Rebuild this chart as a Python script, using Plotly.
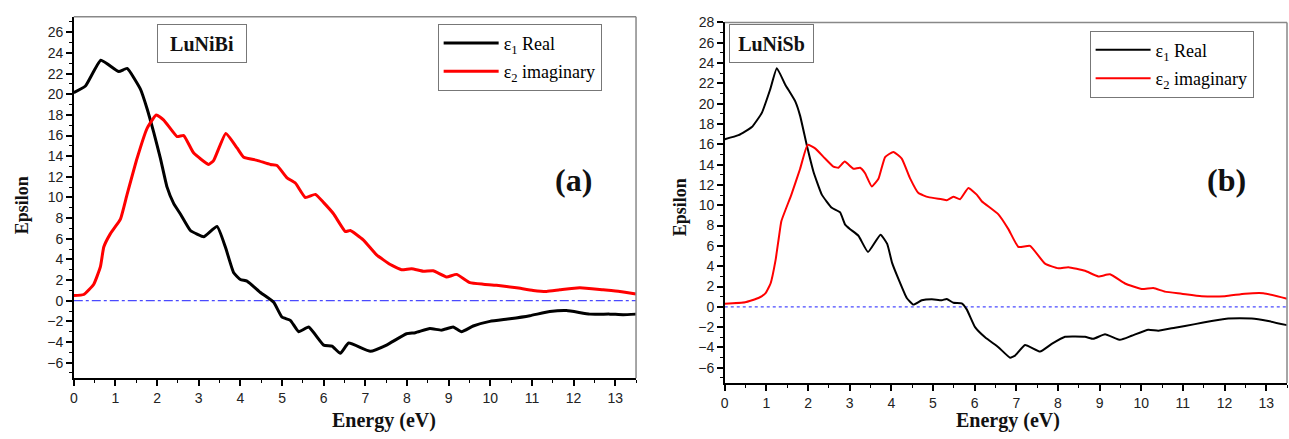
import plotly.graph_objects as go

# ---------------- data ----------------
# Panel (a) LuNiBi
bi_e1_E = [0, 0.28, 0.65, 1.08, 1.28, 1.6, 1.76, 1.92, 2.08, 2.24, 2.4, 2.56, 2.8, 2.96, 3.12, 3.44, 3.64,
           3.84, 4.0, 4.16, 4.48, 4.8, 5.0, 5.2, 5.4, 5.64, 6.0, 6.2, 6.4, 6.6, 7.12, 7.51, 7.99, 8.2, 8.55,
           8.83, 9.11, 9.31, 9.59, 9.99, 10.47, 10.95, 11.43, 11.83, 12.39, 12.87, 13.19, 13.5]
bi_e1 = [20.15, 20.8, 23.3, 22.2, 22.5, 20.5, 18.6, 16.3, 13.8, 11.0, 9.4, 8.4, 6.8, 6.45, 6.2, 7.2, 5.2,
         2.7, 2.05, 1.9, 0.8, -0.15, -1.6, -1.9, -3.0, -2.55, -4.3, -4.4, -5.1, -4.1, -4.9, -4.3, -3.2, -3.1, -2.7,
         -2.85, -2.55, -3.0, -2.45, -2.0, -1.75, -1.45, -1.05, -0.95, -1.3, -1.3, -1.35, -1.3]

bi_e2_E = [0, 0.24, 0.48, 0.64, 0.72, 0.88, 1.12, 1.28, 1.52, 1.76, 1.98, 2.16, 2.48, 2.64, 2.88, 3.24, 3.36,
           3.65, 3.92, 4.08, 4.4, 4.72, 4.88, 5.12, 5.32, 5.56, 5.8, 6.0, 6.24, 6.52, 6.64, 6.95, 7.27, 7.6,
           7.87, 8.11, 8.39, 8.63, 8.95, 9.19, 9.51, 9.83, 10.15, 10.63, 11.03, 11.35, 11.67, 12.15, 12.71, 13.11, 13.5]
bi_e2 = [0.5, 0.6, 1.6, 3.3, 5.2, 6.5, 7.9, 10.3, 13.8, 16.7, 18.0, 17.5, 15.9, 16.0, 14.3, 13.2, 13.6,
         16.2, 14.8, 13.9, 13.6, 13.2, 13.1, 11.9, 11.4, 10.0, 10.3, 9.5, 8.4, 6.7, 6.8, 5.9, 4.45, 3.5,
         3.0, 3.1, 2.85, 2.9, 2.3, 2.55, 1.75, 1.6, 1.5, 1.25, 1.0, 0.9, 1.05, 1.25, 1.05, 0.9, 0.65]

# Panel (b) LuNiSb
sb_e1_E = [0, 0.33, 0.65, 0.89, 1.09, 1.25, 1.45, 1.69, 1.81, 1.97, 2.13, 2.33, 2.57, 2.77, 2.89, 3.01, 3.21,
           3.44, 3.74, 3.9, 4.02, 4.18, 4.37, 4.53, 4.73, 4.97, 5.21, 5.33, 5.49, 5.69, 5.81, 6.01, 6.25, 6.57,
           6.85, 6.97, 7.21, 7.57, 7.85, 8.17, 8.65, 8.85, 9.13, 9.49, 9.77, 10.17, 10.41, 10.81, 11.29, 11.69,
           12.09, 12.65, 13.05, 13.5]
sb_e1 = [16.5, 16.9, 17.7, 19.1, 21.4, 23.5, 21.9, 20.25, 18.8, 15.9, 13.3, 11.05, 9.75, 9.3, 8.1, 7.65, 7.0,
         5.4, 7.1, 6.2, 4.3, 2.65, 0.87, 0.22, 0.65, 0.75, 0.65, 0.78, 0.4, 0.35, -0.25, -2.0, -3.0, -3.97,
         -5.0, -4.8, -3.75, -4.4, -3.65, -2.95, -2.95, -3.15, -2.7, -3.25, -2.85, -2.25, -2.35, -2.05, -1.7, -1.4,
         -1.15, -1.15, -1.4, -1.8]

sb_e2_E = [0, 0.49, 0.81, 0.98, 1.1, 1.22, 1.3, 1.36, 1.6, 1.81, 1.99, 2.17, 2.41, 2.61, 2.73, 2.88, 3.09,
           3.25, 3.37, 3.53, 3.69, 3.85, 4.05, 4.25, 4.45, 4.65, 4.89, 5.21, 5.33, 5.49, 5.65, 5.85, 6.05,
           6.17, 6.57, 6.81, 7.05, 7.33, 7.69, 8.01, 8.25, 8.65, 8.97, 9.25, 9.61, 10.01, 10.29, 10.57,
           10.97, 11.45, 12.01, 12.49, 12.93, 13.5]
sb_e2 = [0.3, 0.45, 0.87, 1.35, 2.3, 4.6, 6.85, 8.45, 11.05, 13.6, 15.95, 15.6, 14.6, 13.8, 13.7, 14.3, 13.6,
         13.7, 13.15, 11.85, 12.6, 14.75, 15.25, 14.6, 12.65, 11.2, 10.8, 10.6, 10.5, 10.85, 10.6, 11.7, 11.05,
         10.4, 9.1, 7.65, 5.9, 6.0, 4.25, 3.8, 3.9, 3.55, 3.0, 3.2, 2.3, 1.75, 1.85, 1.5,
         1.3, 1.05, 1.05, 1.3, 1.35, 0.8]

name_real = "ε<sub>1</sub> Real"
name_imag = "ε<sub>2</sub> imaginary"
x_range = [0, 13.5]
ya_range = [-7.5, 27.5]
yb_range = [-7.5, 28]

# ---------------- figure ----------------
W, H = 1289, 439
SERIF = "Liberation Serif"
SANS = "Liberation Sans"

fig = go.Figure()
fig.add_trace(go.Scatter(x=bi_e1_E, y=bi_e1, mode="lines", name=name_real, legend="legend",
                         line=dict(color="black", width=3, shape="spline", smoothing=0.4),
                         xaxis="x", yaxis="y", legendgroup="a1"))
fig.add_trace(go.Scatter(x=bi_e2_E, y=bi_e2, mode="lines", name=name_imag, legend="legend",
                         line=dict(color="#ff0000", width=3, shape="spline", smoothing=0.4),
                         xaxis="x", yaxis="y", legendgroup="a2"))
fig.add_trace(go.Scatter(x=sb_e1_E, y=sb_e1, mode="lines", name=name_real, legend="legend2",
                         line=dict(color="black", width=2, shape="spline", smoothing=0.4),
                         xaxis="x2", yaxis="y2", legendgroup="b1"))
fig.add_trace(go.Scatter(x=sb_e2_E, y=sb_e2, mode="lines", name=name_imag, legend="legend2",
                         line=dict(color="#ff0000", width=2, shape="spline", smoothing=0.4),
                         xaxis="x2", yaxis="y2", legendgroup="b2"))


def xax(domain, anchor):
    return dict(domain=domain, anchor=anchor, range=x_range, dtick=1, tick0=0,
                ticks="outside", ticklen=6, tickwidth=1.5, tickcolor="black",
                minor=dict(dtick=0.5, ticks="outside", ticklen=3, tickcolor="black", tickwidth=1.2),
                showline=True, linecolor="black", linewidth=1.5, showgrid=False, zeroline=False,
                tickfont=dict(family=SANS, size=14, color="#222"))


def yax(domain, anchor, rng):
    return dict(domain=domain, anchor=anchor, range=rng, dtick=2, tick0=0,
                ticks="outside", ticklen=6, tickwidth=1.5, tickcolor="black",
                minor=dict(dtick=1, ticks="outside", ticklen=3, tickcolor="black", tickwidth=1.2),
                showline=True, linecolor="black", linewidth=1.5, showgrid=False, zeroline=False,
                tickfont=dict(family=SANS, size=14, color="#222"))


xa_dom = [70 / W, 634 / W]
xb_dom = [723 / W, 1287 / W]
ya_dom = [1 - 377 / H, 1 - 9 / H]
yb_dom = [1 - 382 / H, 1 - 14.7 / H]

legend_common = dict(bgcolor="white", bordercolor="#777", borderwidth=1,
                     font=dict(family=SERIF, size=18, color="black"),
                     itemwidth=55, tracegroupgap=2, xanchor="left", yanchor="top")

fig.update_layout(
    width=W, height=H, margin=dict(l=0, r=0, t=0, b=0),
    paper_bgcolor="white", plot_bgcolor="white",
    xaxis=xax(xa_dom, "y"), yaxis=yax(ya_dom, "x", ya_range),
    xaxis2=xax(xb_dom, "y2"), yaxis2=yax(yb_dom, "x2", yb_range),
    legend=dict(x=435 / W, y=1 - 16 / H, **legend_common),
    legend2=dict(x=1089 / W, y=1 - 23 / H, **legend_common),
    showlegend=True,
)

# frames (gray top/right) and zero lines
for xr, yr, dash in (("x", "y", "dashdot"), ("x2", "y2", "dot")):
    fig.add_shape(type="line", xref=f"{xr} domain", yref=f"{yr} domain", x0=0, x1=1, y0=1, y1=1,
                  line=dict(color="#888", width=1.5))
    fig.add_shape(type="line", xref=f"{xr} domain", yref=f"{yr} domain", x0=1, x1=1, y0=0, y1=1,
                  line=dict(color="#888", width=1.5))
    fig.add_shape(type="line", xref=f"{xr} domain", yref=yr, x0=0, x1=1, y0=0, y1=0,
                  line=dict(color="#4a4aff", width=1.2, dash=dash), layer="below")

ann = []
# axis titles
for cx, cy in ((18, 201), (678, 203)):
    ann.append(dict(text="<b>Epsilon</b>", x=cx / W, y=1 - cy / H, xref="paper", yref="paper",
                    textangle=-90, showarrow=False, font=dict(family=SERIF, size=18, color="#111"),
                    xanchor="center", yanchor="middle"))
for cx in (381, 1007):
    ann.append(dict(text="<b>Energy (eV)</b>", x=cx / W, y=1 - 420 / H, xref="paper", yref="paper",
                    showarrow=False, font=dict(family=SERIF, size=20, color="#111"),
                    xanchor="center", yanchor="middle"))
# material labels
for txt, cx, w in (("LuNiBi", 199, 84), ("LuNiSb", 769.5, 79)):
    ann.append(dict(text=f"<b>{txt}</b>", x=cx / W, y=1 - 36.5 / H, xref="paper", yref="paper",
                    showarrow=False, font=dict(family=SERIF, size=20, color="#111"),
                    bordercolor="#777", borderwidth=1, borderpad=2, bgcolor="white",
                    width=w, height=33, xanchor="center", yanchor="middle"))
# panel letters
for txt, cx in (("(a)", 571), ("(b)", 1226)):
    ann.append(dict(text=f"<b>{txt}</b>", x=cx / W, y=1 - 175 / H, xref="paper", yref="paper",
                    showarrow=False, font=dict(family=SERIF, size=32, color="#111"),
                    xanchor="center", yanchor="middle"))
fig.update_layout(annotations=ann)

fig.write_html("out.html")
